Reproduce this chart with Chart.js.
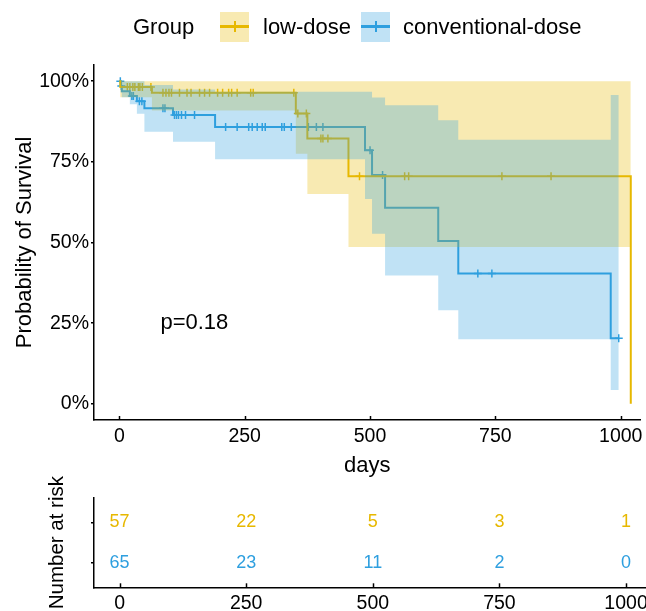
<!DOCTYPE html>
<html>
<head>
<meta charset="utf-8">
<title>Survival by group</title>
<script src="https://cdn.jsdelivr.net/npm/chart.js@4.4.1/dist/chart.umd.min.js"></script>
<style>
  body { margin: 0; background: #fff; font-family: "Liberation Sans", Arial, sans-serif; }
  #wrap { position: relative; width: 646px; height: 611px; overflow: hidden; }
  #survChart { position: absolute; left: 0; top: 0; }
  #riskChart { position: absolute; left: 0; top: 440px; }
  .legend { position: absolute; left: 0; top: 0; width: 646px; height: 56px; font-size: 22px; color: #000; z-index: 2; }
  .legend span { position: absolute; top: 14px; line-height: 26px; white-space: nowrap; }
  .key { position: absolute; top: 12px; width: 29px; height: 30px; }
  .key .ln { position: absolute; left: 0; right: 0; top: 13px; height: 3px; }
  .key .tk { position: absolute; left: 13.5px; top: 9px; width: 2px; height: 11px; }
</style>
</head>
<body>
<div id="wrap">
  <div class="legend">
    <span style="left:133px">Group</span>
    <div class="key" style="left:220px;background:rgba(231,184,0,0.3)"><div class="ln" style="background:#E7B800"></div><div class="tk" style="background:#E7B800"></div></div>
    <span style="left:263px">low-dose</span>
    <div class="key" style="left:361px;background:rgba(46,159,223,0.3)"><div class="ln" style="background:#2E9FDF"></div><div class="tk" style="background:#2E9FDF"></div></div>
    <span style="left:403px">conventional-dose</span>
  </div>
  <canvas id="survChart" width="646" height="480"></canvas>
  <canvas id="riskChart" width="646" height="171"></canvas>
</div>
<script>
// low-dose group: step times (days), survival %, 95% band
const lowTimes = [0, 2, 65, 352, 375, 457, 1020];
const lowSurv  = [100, 98.2, 96.4, 90.0, 82.2, 70.5, 0];
const lowUpper = [100, 100, 100, 100, 100, 100, 100];
const lowLower = [100, 95.0, 90.9, 77.5, 65.0, 48.6, 48.6];
const lowCensor = [16, 21, 27, 31, 38, 41, 46, 63, 87, 93, 99, 104, 120, 135, 143, 160, 170, 180,
  196, 206, 218, 224, 235, 262, 267, 348, 356, 373, 402, 406, 416, 479, 569, 577, 763, 861];

// conventional-dose group
const convTimes = [0, 3, 5, 21, 35, 50, 107, 191, 490, 504, 530, 636, 676, 980, 996];
const convSurv  = [100, 98.5, 96.9, 95.4, 93.8, 91.6, 89.5, 85.8, 78.6, 70.9, 60.8, 50.5, 40.4, 20.3, 20.3];
const convUpper = [100, 100, 100, 100, 100, 98.8, 97.4, 96.7, 96.7, 94.9, 92.5, 87.9, 81.8, 95.7, 95.7];
const convLower = [100, 96.5, 95.0, 92.8, 89.9, 84.3, 81.2, 75.8, 63.5, 52.7, 39.8, 29.0, 20.0, 4.3, 4.3];
const convCensor = [2, 4, 25, 28, 40, 45, 87, 91, 110, 114, 118, 124, 132, 150, 212, 235, 258, 265,
  275, 285, 291, 324, 329, 343, 377, 393, 406, 500, 525, 715, 743, 996];

const xTicks = [0, 250, 500, 750, 1000];
const yTicks = [0, 25, 50, 75, 100];
const pLabel = 'p=0.18';

// number at risk table
const riskTimes = [0, 250, 500, 750, 1000];
const lowRisk  = [57, 22, 5, 3, 1];
const convRisk = [65, 23, 11, 2, 0];

const YELLOW = '#E7B800';
const BLUE = '#2E9FDF';
const FONT = '"Liberation Sans", Arial, sans-serif';

Chart.defaults.font.family = FONT;
Chart.defaults.color = '#000';

const pts = (xs, ys) => xs.map((x, i) => ({ x, y: ys[i] }));
const stepAt = (xs, ys, t) => {
  let v = ys[0];
  xs.forEach((x, i) => { if (x <= t) v = ys[i]; });
  return v;
};
const censorPts = (cs, xs, ys) => cs.map(t => ({ x: t, y: stepAt(xs, ys, t) }));

// x-axis tick marks point up into the panel
const upTicks = {
  id: 'upTicks',
  afterDraw(chart) {
    const { ctx } = chart;
    const sx = chart.scales.x;
    ctx.save();
    ctx.strokeStyle = '#000';
    ctx.lineWidth = 1.5;
    sx.ticks.forEach(t => {
      const px = Math.round(sx.getPixelForValue(t.value)) + 0.5;
      ctx.beginPath();
      ctx.moveTo(px, sx.top);
      ctx.lineTo(px, sx.top - 4);
      ctx.stroke();
    });
    ctx.restore();
  }
};

const pValue = {
  id: 'pValue',
  afterDatasetsDraw(chart) {
    const { ctx, scales: { x, y } } = chart;
    ctx.save();
    ctx.font = '22px ' + FONT;
    ctx.fillStyle = '#000';
    ctx.textAlign = 'left';
    ctx.textBaseline = 'middle';
    ctx.fillText(pLabel, x.getPixelForValue(82), y.getPixelForValue(25));
    ctx.restore();
  }
};

const band = (data, color, fill, order) => ({
  data, stepped: true, borderWidth: 0, pointRadius: 0,
  backgroundColor: color, fill, order
});
const line = (data, color) => ({
  data, stepped: true, borderColor: color, borderWidth: 2, pointRadius: 0, fill: false, order: 2
});
const marks = (data, color) => ({
  data, showLine: false, pointStyle: 'cross', pointRadius: 4, pointBorderWidth: 1.5,
  pointBorderColor: color, borderColor: color, fill: false, order: 2
});

new Chart(document.getElementById('survChart'), {
  type: 'line',
  data: {
    datasets: [
      band(pts(convTimes, convUpper), 'rgba(46,159,223,0.3)', '+1', 0),
      band(pts(convTimes, convLower), 'rgba(46,159,223,0.3)', false, 0),
      band(pts(lowTimes, lowUpper), 'rgba(231,184,0,0.3)', '+1', 1),
      band(pts(lowTimes, lowLower), 'rgba(231,184,0,0.3)', false, 1),
      line(pts(lowTimes, lowSurv), YELLOW),
      line(pts(convTimes, convSurv), BLUE),
      marks(censorPts(lowCensor, lowTimes, lowSurv), YELLOW),
      marks(censorPts(convCensor, convTimes, convSurv), BLUE)
    ]
  },
  options: {
    responsive: false,
    animation: false,
    events: [],
    layout: { padding: { top: 65, left: 0, right: 0, bottom: 0 } },
    plugins: {
      legend: { display: false },
      tooltip: { enabled: false },
      filler: { propagate: false }
    },
    scales: {
      x: {
        type: 'linear',
        min: -50.5,
        max: 1039.4,
        afterBuildTicks: s => { s.ticks = xTicks.map(v => ({ value: v })); },
        afterFit: s => { s.height = 60; s.paddingLeft = 0; s.paddingRight = 0; },
        grid: { display: true, drawOnChartArea: false, drawTicks: false },
        border: { display: true, color: '#000', width: 1.5 },
        ticks: { color: '#000', font: { size: 19.5 }, padding: 5, maxRotation: 0, autoSkip: false, callback: v => String(v) },
        title: { display: true, text: 'days', color: '#000', font: { size: 22 }, padding: { top: 0, bottom: 1 } }
      },
      y: {
        type: 'linear',
        min: -5,
        max: 105,
        afterBuildTicks: s => { s.ticks = yTicks.map(v => ({ value: v })); },
        afterFit: s => { s.width = 94; s.paddingTop = 0; s.paddingBottom = 0; },
        grid: { display: true, drawOnChartArea: false, drawTicks: true, tickLength: 3, color: '#000', lineWidth: 1.5 },
        border: { display: true, color: '#000', width: 1.5 },
        ticks: { color: '#000', font: { size: 19.5 }, padding: 2, callback: v => v + '%' },
        title: { display: true, text: 'Probability of Survival', color: '#000', font: { size: 22 }, padding: { top: 12, bottom: 0 } }
      }
    }
  },
  plugins: [upTicks, pValue]
});

// risk table: numbers placed at the library's point positions
const riskText = {
  id: 'riskText',
  afterDatasetsDraw(chart) {
    const { ctx } = chart;
    ctx.save();
    ctx.font = '18px ' + FONT;
    ctx.textAlign = 'center';
    ctx.textBaseline = 'middle';
    chart.data.datasets.forEach((ds, di) => {
      const meta = chart.getDatasetMeta(di);
      ctx.fillStyle = ds.textColor;
      meta.data.forEach((pt, i) => ctx.fillText(String(ds.counts[i]), pt.x, pt.y));
    });
    ctx.restore();
  }
};

new Chart(document.getElementById('riskChart'), {
  type: 'line',
  data: {
    datasets: [
      { data: riskTimes.map(t => ({ x: t, y: 2 })), counts: lowRisk, textColor: YELLOW, showLine: false, pointRadius: 0 },
      { data: riskTimes.map(t => ({ x: t, y: 1 })), counts: convRisk, textColor: BLUE, showLine: false, pointRadius: 0 }
    ]
  },
  options: {
    responsive: false,
    animation: false,
    events: [],
    layout: { padding: { top: 58, left: 0, right: 0, bottom: 0 } },
    plugins: { legend: { display: false }, tooltip: { enabled: false } },
    scales: {
      x: {
        type: 'linear',
        min: -50.5,
        max: 1039.4,
        afterBuildTicks: s => { s.ticks = riskTimes.map(v => ({ value: v })); },
        afterFit: s => { s.height = 23.7; s.paddingLeft = 0; s.paddingRight = 0; },
        grid: { display: true, drawOnChartArea: false, drawTicks: false },
        border: { display: true, color: '#000', width: 1.5 },
        ticks: { color: '#000', font: { size: 19.5 }, padding: 5, maxRotation: 0, autoSkip: false, callback: v => String(v) }
      },
      y: {
        type: 'linear',
        min: 0.4,
        max: 2.6,
        afterBuildTicks: s => { s.ticks = [1, 2].map(v => ({ value: v })); },
        afterFit: s => { s.width = 94; s.paddingTop = 0; s.paddingBottom = 0; },
        grid: { display: true, drawOnChartArea: false, drawTicks: true, tickLength: 3, color: '#000', lineWidth: 1.5 },
        border: { display: true, color: '#000', width: 1.5 },
        ticks: { callback: () => '', padding: 0 },
        title: { display: true, text: 'Number at risk', color: '#000', font: { size: 20.5 }, padding: { top: 45, bottom: 0 } }
      }
    }
  },
  plugins: [upTicks, riskText]
});
</script>
</body>
</html>
